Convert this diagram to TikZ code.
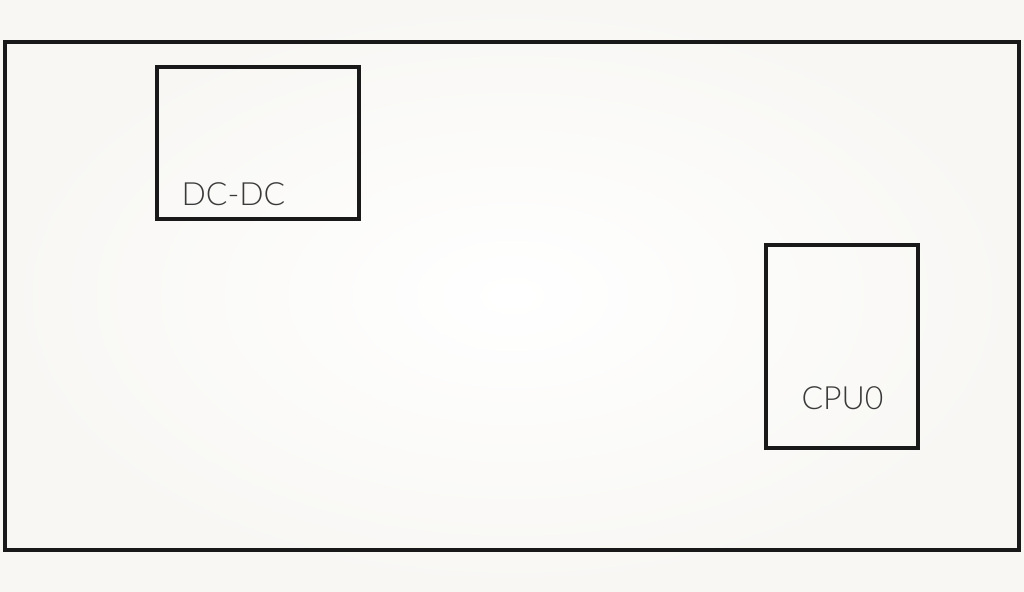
\documentclass[tikz,border=0pt]{standalone}
\usepackage{fontspec}
\setmainfont{Lato Light}
\usetikzlibrary{positioning}
\definecolor{paper}{HTML}{F8F7F4}
\definecolor{ink}{HTML}{3A3A3A}

\begin{document}
\begin{tikzpicture}[x=1pt,y=-1pt,
  board/.style={draw=black!90,line width=3.2pt},
  part/.style={board,inner sep=0pt},
  tag/.style={text=ink,font=\fontsize{32}{34}\selectfont,inner sep=0pt}]
  \useasboundingbox (0,0) rectangle (1024,591);
  \shade[inner color=white,outer color=paper] (0,0) rectangle (1024,591);

  \node[board,minimum width=1014pt,minimum height=508pt] (pcb) at (512,296) {};
  \node[part,minimum width=202pt,minimum height=152pt]   (dcdc) at (258,143) {};
  \node[part,minimum width=152pt,minimum height=203pt]   (cpu)  at (842,346.5) {};

  \node[tag] (dcdclbl) at (233.5,194) {DC-DC};
  \node[tag] (cpulbl)  at (842.5,398) {CPU0};
\end{tikzpicture}
\end{document}
